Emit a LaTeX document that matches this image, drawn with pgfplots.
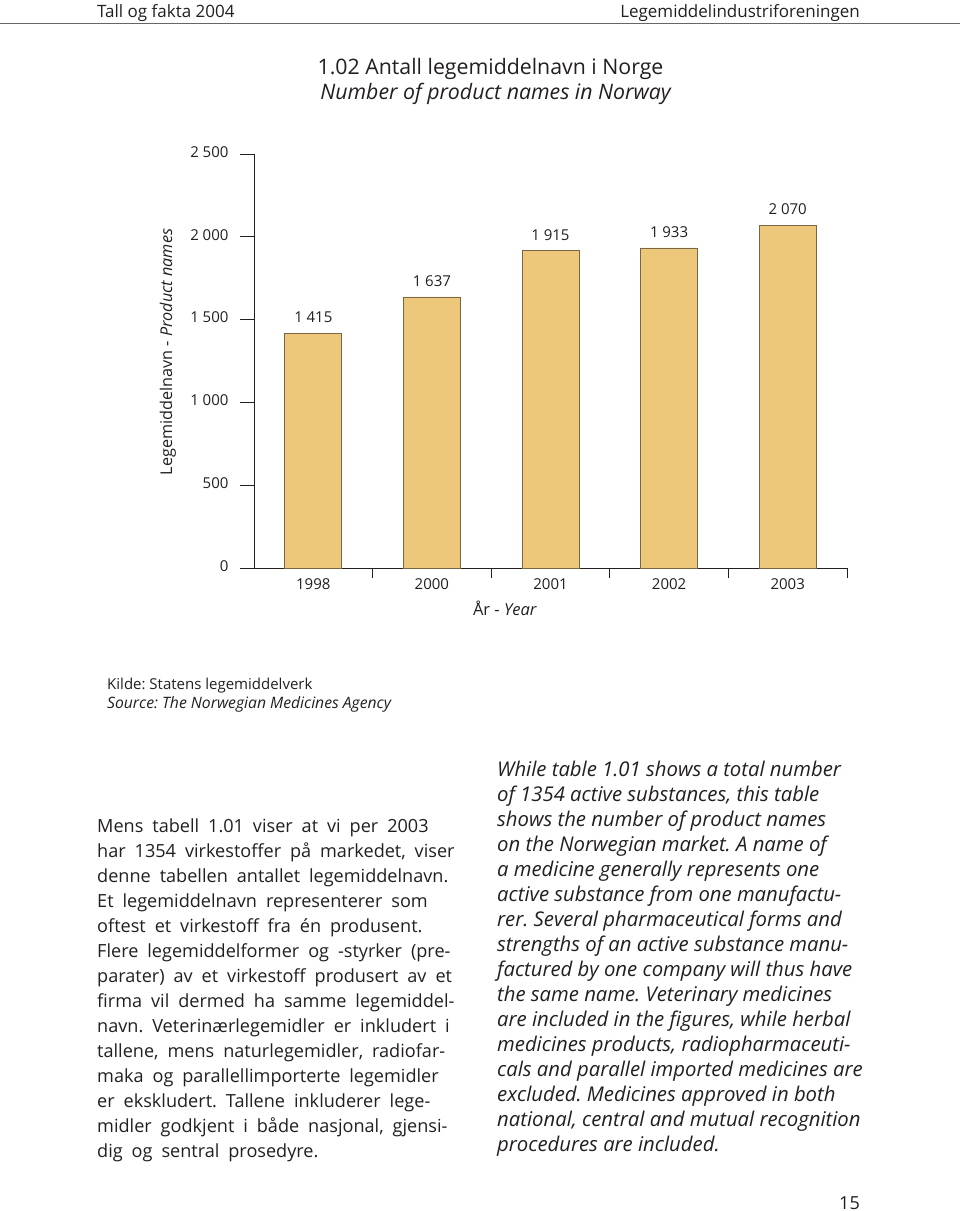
\documentclass[border=0pt]{standalone}
\usepackage{fontspec}
\setmainfont{Open Sans}
\newfontfamily\bodyfont{Open Sans}[WordSpace=1.9]
\usepackage{pgfplots}
\pgfplotsset{compat=1.18}
\definecolor{barfill}{HTML}{EDC87A}
\definecolor{barline}{HTML}{7A6545}
\definecolor{txt}{HTML}{231F20}
\newcommand{\ts}{\hspace{0.25em}}
\begin{document}
\frenchspacing
\begin{tikzpicture}
\path[use as bounding box] (0,0) rectangle (960pt,-1211pt);
\fill[white] (0,0) rectangle (960pt,-1211pt);
% header
\node[anchor=base west, inner sep=0, text=txt, font=\fontsize{17}{20}\selectfont] at (97pt,-17pt) {Tall og fakta 2004};
\node[anchor=base east, inner sep=0, text=txt, font=\fontsize{17}{20}\selectfont] at (860pt,-17pt) {Legemiddelindustriforeningen};
\draw[black!60, line width=0.8pt] (0,-23pt) -- (960pt,-23pt);
% title
\node[anchor=base, inner sep=0, text=txt, font=\fontsize{21.3}{24}\selectfont] at (490.5pt,-74pt) {1.02 Antall legemiddelnavn i Norge};
\node[anchor=base, inner sep=0, text=txt, font=\itshape\fontsize{21.3}{24}\selectfont] at (495.5pt,-99pt) {Number of product names in Norway};
\begin{axis}[
  scale only axis, width=593pt, height=414pt,
  at={(254pt,-568pt)}, anchor=south west,
  xmin=-0.5, xmax=4.5, ymin=0, ymax=2500,
  axis x line*=bottom, axis y line*=left,
  axis line style={draw=txt, line width=1pt},
  ytick={0,500,1000,1500,2000,2500},
  yticklabels={0,500,1\ts 000,1\ts 500,2\ts 000,2\ts 500},
  xtick={0,1,2,3,4},
  xticklabels={1998,2000,2001,2002,2003},
  minor xtick={0.5,1.5,2.5,3.5,4.5},
  tick align=outside, major tick length=14pt, minor tick length=10pt,
  major x tick style={draw=none},
  every tick/.style={line width=1pt, draw=txt},
  tick label style={font=\fontsize{15}{18}\selectfont, text=txt},
  yticklabel style={xshift=-8pt, yshift=2pt},
  xticklabel style={yshift=7pt},
  ybar, bar width=57pt,
  point meta=explicit symbolic,
  nodes near coords,
  nodes near coords style={font=\fontsize{15}{18}\selectfont, text=txt, anchor=south, yshift=7pt},
]
\addplot[fill=barfill, draw=barline, line width=0.8pt] coordinates {
  (0,1415) [1\ts 415]
  (1,1637) [1\ts 637]
  (2,1915) [1\ts 915]
  (3,1933) [1\ts 933]
  (4,2070) [2\ts 070]
};
\end{axis}
\node[rotate=90, inner sep=0, text=txt, font=\fontsize{16.2}{18}\selectfont] at (168pt,-352pt) {Legemiddelnavn - \textit{Product names}};
\node[inner sep=0, text=txt, font=\fontsize{16.5}{18}\selectfont] at (505pt,-608pt) {År - \textit{Year}};
% source
\node[anchor=base west, inner sep=0, text=txt, font=\fontsize{15}{18}\selectfont] at (107pt,-689pt) {Kilde: Statens legemiddelverk};
\node[anchor=base west, inner sep=0, text=txt, font=\itshape\fontsize{15.7}{18}\selectfont] at (107pt,-708pt) {Source: The Norwegian Medicines Agency};
% body text left
\foreach \t [count=\i from 0] in {
 {Mens tabell 1.01 viser at vi per 2003},
 {har 1354 virkestoffer på markedet, viser},
 {denne tabellen antallet legemiddelnavn.},
 {Et legemiddelnavn representerer som},
 {oftest et virkestoff fra én produsent.},
 {Flere legemiddelformer og -styrker (pre-},
 {parater) av et virkestoff produsert av et},
 {firma vil dermed ha samme legemiddel-},
 {navn. Veterinærlegemidler er inkludert i},
 {tallene, mens naturlegemidler, radiofar-},
 {maka og parallellimporterte legemidler},
 {er ekskludert. Tallene inkluderer lege-},
 {midler godkjent i både nasjonal, gjensi-},
 {dig og sentral prosedyre.}}
 \node[anchor=base west, inner sep=0, text=txt, font=\bodyfont\fontsize{18.1}{24}\selectfont] at (97pt,{-832pt-\i*25pt}) {\t};
% body text right
\foreach \t [count=\i from 0] in {
 {While table 1.01 shows a total number},
 {of 1354 active substances, this table},
 {shows the number of product names},
 {on the Norwegian market. A name of},
 {a medicine generally represents one},
 {active substance from one manufactu-},
 {rer. Several pharmaceutical forms and},
 {strengths of an active substance manu-},
 {factured by one company will thus have},
 {the same name. Veterinary medicines},
 {are included in the figures, while herbal},
 {medicines products, radiopharmaceuti-},
 {cals and parallel imported medicines are},
 {excluded. Medicines approved in both},
 {national, central and mutual recognition},
 {procedures are included.}}
 \node[anchor=base west, inner sep=0, text=txt, font=\itshape\fontsize{20.3}{24}\selectfont] at (497pt,{-776pt-\i*25pt}) {\t};
\node[anchor=base east, inner sep=0, text=txt, font=\fontsize{18}{20}\selectfont] at (860pt,-1209pt) {15};
\end{tikzpicture}
\end{document}
